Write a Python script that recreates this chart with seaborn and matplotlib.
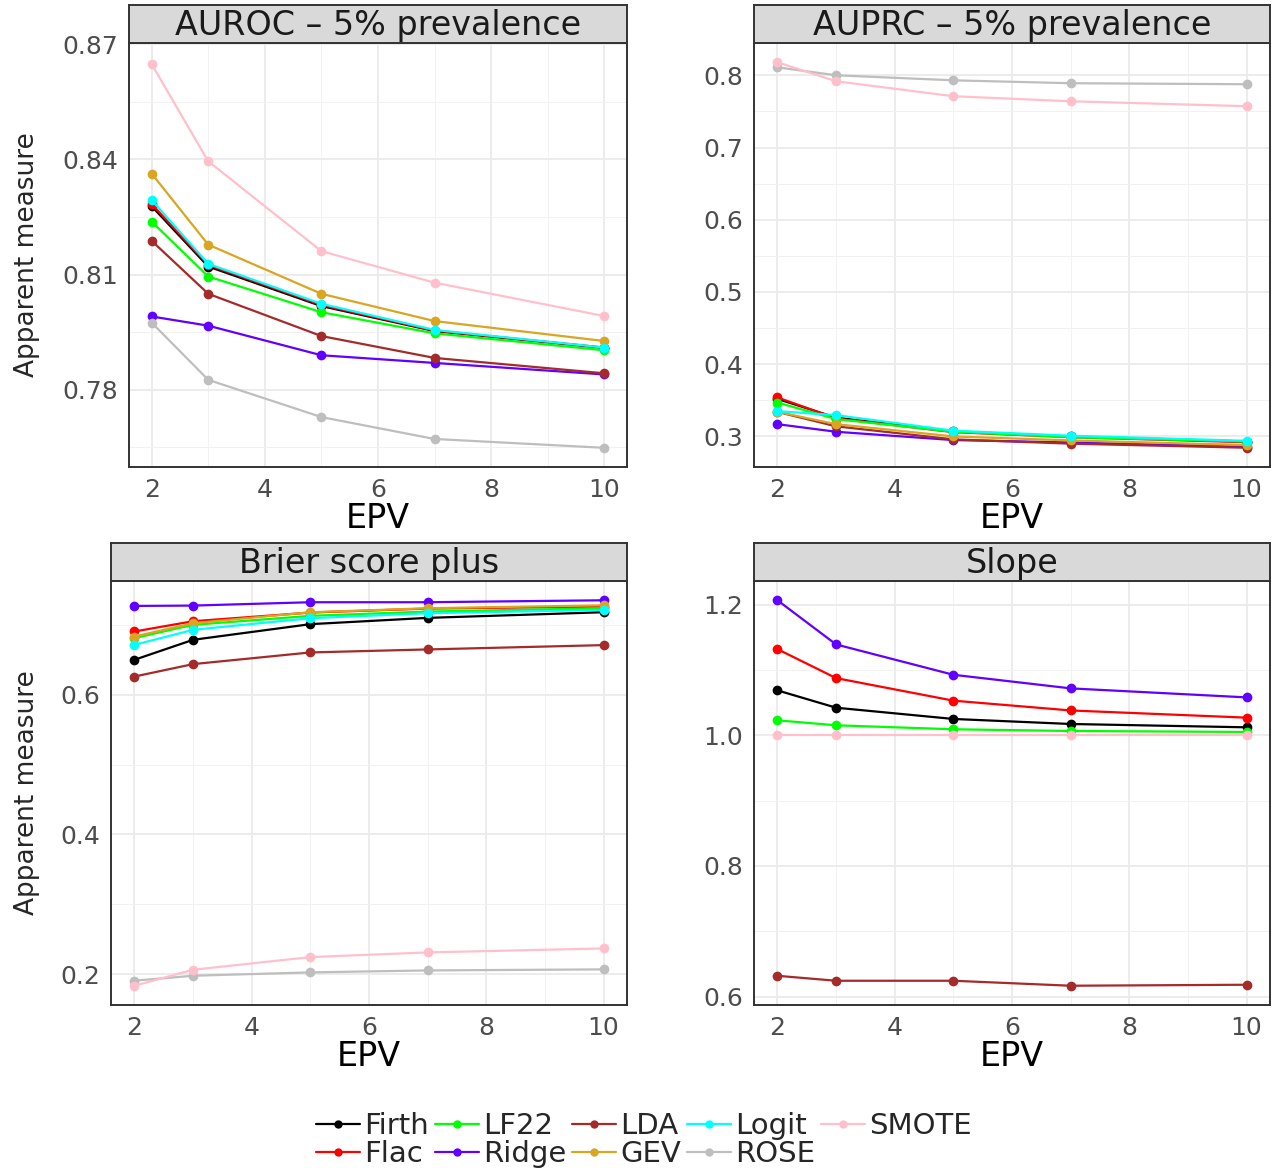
import numpy as np
import pandas as pd
import matplotlib
matplotlib.use("Agg")
import matplotlib.pyplot as plt
from matplotlib.lines import Line2D
from matplotlib.ticker import FixedLocator, FormatStrFormatter
import seaborn as sns

sns.set_style("white")
plt.rcParams['font.family'] = ['DejaVu Sans']

# data
epv = [2, 3, 5, 7, 10]
methods = ["Firth", "Flac", "LF22", "Ridge", "LDA", "GEV", "Logit", "ROSE", "SMOTE"]
colors = {"Firth": "#000000", "Flac": "#FF0000", "LF22": "#00FF00", "Ridge": "#6100FF",
          "LDA": "#A52A2A", "GEV": "#DAA520", "Logit": "#00FFFF", "ROSE": "#BEBEBE",
          "SMOTE": "#FFC0CB"}

auroc = {
    "Firth": [0.8278, 0.8121, 0.8018, 0.7953, 0.7909],
    "Flac":  [0.8284, 0.8125, 0.8021, 0.7954, 0.7910],
    "LF22":  [0.8238, 0.8095, 0.8002, 0.7947, 0.7903],
    "Ridge": [0.7991, 0.7967, 0.7890, 0.7870, 0.7840],
    "LDA":   [0.8188, 0.8050, 0.7940, 0.7883, 0.7843],
    "GEV":   [0.8363, 0.8178, 0.8050, 0.7979, 0.7927],
    "Logit": [0.8294, 0.8128, 0.8024, 0.7956, 0.7910],
    "ROSE":  [0.7975, 0.7826, 0.7729, 0.7672, 0.7649],
    "SMOTE": [0.8648, 0.8395, 0.8161, 0.8079, 0.7992],
}
auprc = {
    "Firth": [0.352, 0.326, 0.307, 0.300, 0.293],
    "Flac":  [0.354, 0.325, 0.306, 0.299, 0.292],
    "LF22":  [0.347, 0.324, 0.3065, 0.299, 0.293],
    "Ridge": [0.317, 0.3065, 0.295, 0.2917, 0.2857],
    "LDA":   [0.334, 0.314, 0.296, 0.290, 0.2844],
    "GEV":   [0.334, 0.317, 0.300, 0.2945, 0.288],
    "Logit": [0.335, 0.3295, 0.308, 0.301, 0.294],
    "ROSE":  [0.811, 0.800, 0.793, 0.789, 0.7876],
    "SMOTE": [0.818, 0.7917, 0.771, 0.764, 0.7572],
}
brier = {
    "Firth": [0.650, 0.6786, 0.701, 0.710, 0.7181],
    "Flac":  [0.6905, 0.7052, 0.7176, 0.7233, 0.7262],
    "LF22":  [0.681, 0.700, 0.7129, 0.719, 0.7238],
    "Ridge": [0.7271, 0.7276, 0.7324, 0.7324, 0.7352],
    "LDA":   [0.626, 0.6438, 0.6605, 0.6648, 0.671],
    "GEV":   [0.6833, 0.7024, 0.718, 0.7238, 0.728],
    "Logit": [0.6714, 0.6929, 0.7095, 0.7167, 0.7214],
    "ROSE":  [0.1905, 0.1976, 0.2024, 0.2052, 0.2067],
    "SMOTE": [0.1833, 0.2062, 0.2243, 0.231, 0.2367],
}
slope = {
    "Firth": [1.0687, 1.0422, 1.025, 1.0173, 1.0122],
    "Flac":  [1.1318, 1.0875, 1.053, 1.038, 1.027],
    "LF22":  [1.0229, 1.0153, 1.0092, 1.0066, 1.0051],
    "Ridge": [1.2066, 1.139, 1.0926, 1.0718, 1.058],
    "LDA":   [0.632, 0.6244, 0.6244, 0.6168, 0.6183],
    "SMOTE": [1.0, 1.0, 1.0, 1.0, 1.0],
}

panels = [
    ("AUROC \u2013 5% prevalence", auroc, [0.78, 0.81, 0.84, 0.87], "%.2f"),
    ("AUPRC \u2013 5% prevalence", auprc, [0.3, 0.4, 0.5, 0.6, 0.7, 0.8], "%.1f"),
    ("Brier score plus", brier, [0.2, 0.4, 0.6], "%.1f"),
    ("Slope", slope, [0.6, 0.8, 1.0, 1.2], "%.1f"),
]

W, H = 1280, 1168
# panel boxes in pixels: left, top, right, bottom
boxes = [(129, 43, 627, 467), (754, 43, 1270, 467),
         (111, 581, 627, 1005), (754, 581, 1270, 1005)]
strip_h = 38

fig = plt.figure(figsize=(12.8, 11.68), dpi=100)

for (title, vals, yt, fmt), (l, t, r, b) in zip(panels, boxes):
    ax = fig.add_axes([l / W, 1 - b / H, (r - l) / W, (b - t) / H])
    rows = []
    for m in methods:
        if m in vals:
            for x, v in zip(epv, vals[m]):
                rows.append({"EPV": x, "value": v, "method": m})
    df = pd.DataFrame(rows)
    order = [m for m in methods if m in vals]
    sns.lineplot(data=df, x="EPV", y="value", hue="method", hue_order=order,
                 palette=colors, marker="o", markersize=7, markeredgewidth=0,
                 linewidth=1.6, errorbar=None, legend=False, ax=ax)
    ax.margins(x=0.05, y=0.05)
    lo, hi = ax.get_ylim()
    # keep a break that sits right on the panel edge
    if yt[-1] > hi and yt[-1] - hi < 0.002:
        ax.set_ylim(lo, yt[-1] + 0.0003)
    ax.xaxis.set_major_locator(FixedLocator([2, 4, 6, 8, 10]))
    ax.xaxis.set_minor_locator(FixedLocator([3, 5, 7, 9]))
    step = yt[1] - yt[0]
    ax.yaxis.set_major_locator(FixedLocator(yt))
    ax.yaxis.set_minor_locator(FixedLocator([y - step / 2 for y in yt] + [yt[-1] + step / 2]))
    ax.yaxis.set_major_formatter(FormatStrFormatter(fmt))
    ax.grid(True, which="major", color="#EBEBEB", linewidth=1.3)
    ax.grid(True, which="minor", color="#F2F2F2", linewidth=0.7)
    ax.set_axisbelow(True)
    for s in ax.spines.values():
        s.set_color("#333333")
        s.set_linewidth(1.4)
    ax.tick_params(axis="both", which="major", length=6, width=1.1, color="#333333",
                   labelsize=18, labelcolor="#4D4D4D", pad=2)
    ax.tick_params(axis="both", which="minor", length=0)
    ax.set_ylabel("")
    ax.set_xlabel("EPV", fontsize=24, color="black", labelpad=0)

    # facet strip
    sax = fig.add_axes([l / W, 1 - t / H, (r - l) / W, strip_h / H])
    sax.set_facecolor("#D9D9D9")
    sax.set_xticks([])
    sax.set_yticks([])
    for s in sax.spines.values():
        s.set_color("#333333")
        s.set_linewidth(1.4)
    sax.text(0.5, 0.47, title, ha="center", va="center", fontsize=24,
             color="#1A1A1A", transform=sax.transAxes)

# y axis titles, one per row
for t, b in [(43, 467), (581, 1005)]:
    fig.text(27 / W, 1 - (t + b) / 2 / H, "Apparent measure", rotation=90,
             ha="center", va="center", fontsize=19)

handles = [Line2D([], [], color=colors[m], marker="o", markersize=6,
                  markeredgewidth=0, linewidth=1.6) for m in methods]
fig.legend(handles, methods, loc="center", bbox_to_anchor=(0.503, 1 - 1140 / H),
           ncol=5, frameon=False, fontsize=21, handlelength=1.5,
           handletextpad=0.15, columnspacing=0.2, labelspacing=0.0,
           borderaxespad=0)

plt.savefig("out.png", dpi=100)
